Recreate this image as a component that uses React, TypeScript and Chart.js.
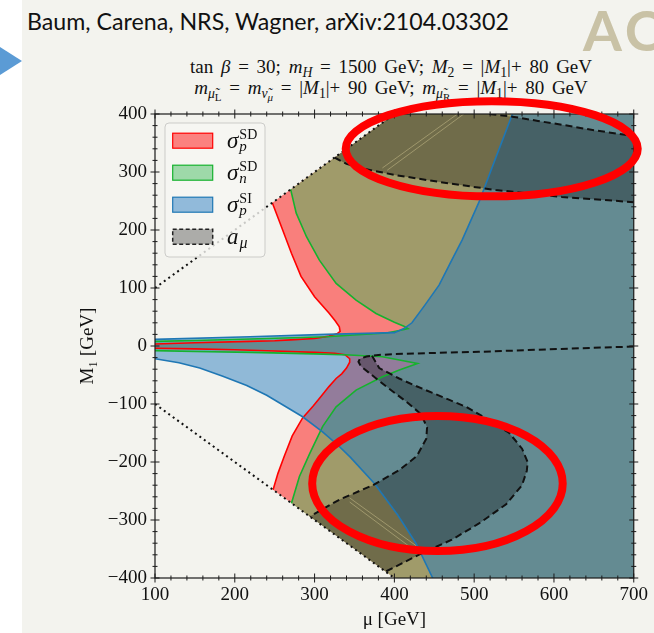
import React, { useEffect, useRef } from "react";
import { Chart, registerables } from "chart.js";

Chart.register(...registerables);

type P = [number, number];

// ---------- axes ----------
const MU_MIN = 100;
const MU_MAX = 700;
const M1_MIN = -400;
const M1_MAX = 400;
const TICK_STEP = 100;
const MINOR_STEP = 20;
const X_TITLE = "μ [GeV]";
const Y_TITLE = "M₁ [GeV]";

// ---------- boundary curves (μ [GeV], M1 [GeV]) ----------
// σ_p^SD : upper branch (from |M1|=μ line down into the strip, then to the left edge)
const redUpper: P[] = [
  [247, 247], [260, 200], [271, 160], [283, 120], [300, 85], [318, 57], [326, 43],
  [331, 33], [332, 25], [328, 21], [318, 17], [300, 13], [270, 10.5], [250, 9],
  [219, 8], [150, 5.5], [100, 3.5], [90, 3.2],
];
// σ_p^SD : lower branch (left edge, along the strip, then down to M1=-μ)
const redLower: P[] = [
  [90, -3.8], [100, -4], [150, -5], [200, -6.5], [250, -8.5], [300, -11], [325, -12.5],
  [338, -15], [344, -22], [344, -28], [340, -38], [334, -48], [327, -56], [318, -70],
  [308, -87], [298, -104], [285, -124], [272, -155], [262, -190], [254, -220], [248, -248],
];
// σ_n^SD
const greenUpper: P[] = [
  [270, 270], [277, 229], [290, 188], [306, 148], [327, 108], [352, 79], [377, 56],
  [400, 41], [412, 34], [417, 30], [408, 27], [390, 22.5], [344, 18.5], [315, 16],
  [219, 12], [150, 9.5], [100, 8], [90, 7.7],
];
const greenLower: P[] = [
  [90, -7.8], [100, -8], [150, -9.5], [220, -11], [300, -13.5], [344, -15.5], [385, -18.5],
  [429, -30], [407, -41], [385, -53], [352, -76], [327, -105], [310, -139], [294, -185],
  [281, -225], [271, -271],
];
// σ_p^SI
const blueUpper: P[] = [
  [90, 11], [100, 11.5], [219, 16], [315, 20], [400, 23], [412, 30], [422, 40], [438, 70],
  [456, 105], [470, 143], [485, 183], [506, 248], [525, 317], [548, 400],
];
const blueLower: P[] = [
  [90, -20], [100, -22], [130, -29], [156, -38], [185, -52], [215, -68], [240, -85],
  [262, -103], [285, -122], [310, -148], [330, -172], [345, -192], [375, -237],
  [404, -291], [427, -340], [448, -400], [451, -410],
];
// a_μ band (M1 > 0)
const amuTopUpper: P[] = [
  [519, 400], [550, 395], [580, 388], [612, 381], [650, 372], [700, 362],
];
const amuTopLower: P[] = [
  [325, 325], [340, 314], [360, 306], [400, 295], [465, 281], [527, 269], [610, 257], [700, 248],
];
// a_μ band (M1 < 0)
const amuOuterTop: P[] = [
  [700, -1], [650, -3], [590, -6], [506, -10], [448, -12], [400, -14], [380, -15.5],
];
const amuOuterArm: P[] = [
  [365, -18], [357, -22], [355, -27], [358, -35], [369, -47], [390, -70], [415, -96],
  [433, -117], [441, -140], [440, -160], [428, -190], [406, -214], [373, -240],
  [331, -265], [294, -294],
];
const amuInner: P[] = [
  [372, -17], [381, -38], [406, -56], [427, -69], [448, -81], [469, -93], [490, -105],
  [515, -125], [544, -150], [560, -177], [567, -200], [566, -215], [560, -240],
  [540, -273], [506, -306], [472, -334], [435, -357], [402, -380], [389, -389],
];
// faint contour seams visible inside the dark bands
const seamTopA: P[] = [[385, 307], [479, 400]];
const seamTopB: P[] = [[391, 303], [487, 400]];
const seamLowA: P[] = [[344, -262], [431, -348]];
const seamLowB: P[] = [[344, -269], [425, -352]];
// |M1| = μ lines
const dotUpper: P[] = [[100, 100], [400, 400]];
const dotLower: P[] = [[100, -100], [400, -400]];

// ---------- legend ----------
const LEGEND_LABELS = [
  { base: "σ", sub: "p", sup: "SD" },
  { base: "σ", sub: "n", sup: "SD" },
  { base: "σ", sub: "p", sup: "SI" },
  { base: "a", sub: "μ", sup: "" },
];

// ---------- slide annotations (ellipses, data coords) ----------
const ELLIPSES = [
  { mu: 522, m1: 340, rMu: 183, rM1: 82 },
  { mu: 454, m1: -237, rMu: 157, rM1: 116.5 },
];

// ---------- styles ----------
const RED_FILL = "rgba(255,0,0,0.48)";
const GREEN_FILL = "rgba(60,184,86,0.47)";
const BLUE_FILL = "rgba(31,119,190,0.47)";
const AMU_FILL = "rgba(0,0,0,0.3)";
const RED_LINE = "#ff0000";
const GREEN_LINE = "#16b22e";
const BLUE_LINE = "#1f77b4";
const SEAM = "rgba(215,205,150,0.45)";
const SERIF = '"Liberation Serif", "DejaVu Serif", serif';

const LEGEND_STYLES = [
  { fill: RED_FILL, edge: RED_LINE, dashed: false },
  { fill: GREEN_FILL, edge: GREEN_LINE, dashed: false },
  { fill: BLUE_FILL, edge: BLUE_LINE, dashed: false },
  { fill: AMU_FILL, edge: "#222", dashed: true },
];

const rev = (a: P[]) => [...a].reverse();
const pts = (a: P[]) => a.map(([x, y]) => ({ x, y }));

// polygons built from the curves (closing along |M1| = μ and outside the axes)
const redPoly: P[] = [[420, 420], ...redUpper, ...redLower, [420, -420], [800, -420], [800, 420]];
const greenPoly: P[] = [[420, 420], ...greenUpper, ...greenLower, [420, -420], [800, -420], [800, 420]];
const bluePoly: P[] = [...blueUpper, [553, 420], [800, 420], [800, -420], [455, -420], ...rev(blueLower)];
const amuTopPoly: P[] = [...amuTopLower, [760, 240], [760, 350], ...rev(amuTopUpper), [517, 420], [420, 420]];
const amuLowPoly: P[] = [...amuOuterArm, ...rev(amuInner)];

function fillDs(label: string, poly: P[], color: string) {
  return {
    label,
    data: pts(poly),
    showLine: true,
    fill: "shape",
    backgroundColor: color,
    borderColor: "rgba(0,0,0,0)",
    borderWidth: 0,
    pointRadius: 0,
    tension: 0,
  };
}
function lineDs(label: string, arr: P[], color: string, width: number, dash: number[] = []) {
  return {
    label,
    data: pts(arr),
    showLine: true,
    fill: false,
    borderColor: color,
    borderWidth: width,
    borderDash: dash,
    borderCapStyle: "butt",
    pointRadius: 0,
    tension: 0,
  };
}

function drawFrame(chart: any) {
  const { ctx, chartArea: ca, scales } = chart;
  const xs = scales.x;
  const ys = scales.y;
  ctx.save();
  ctx.strokeStyle = "#1a1a1a";
  ctx.lineWidth = 1.2;
  ctx.strokeRect(ca.left, ca.top, ca.right - ca.left, ca.bottom - ca.top);
  ctx.lineWidth = 1;
  for (let v = MU_MIN; v <= MU_MAX; v += MINOR_STEP) {
    const len = v % TICK_STEP === 0 ? 4.5 : 2.5;
    const p = xs.getPixelForValue(v);
    ctx.beginPath();
    ctx.moveTo(p, ca.bottom - len);
    ctx.lineTo(p, ca.bottom + len);
    ctx.moveTo(p, ca.top - len);
    ctx.lineTo(p, ca.top + len);
    ctx.stroke();
  }
  for (let v = M1_MIN; v <= M1_MAX; v += MINOR_STEP) {
    const len = v % TICK_STEP === 0 ? 4.5 : 2.5;
    const p = ys.getPixelForValue(v);
    ctx.beginPath();
    ctx.moveTo(ca.left - len, p);
    ctx.lineTo(ca.left + len, p);
    ctx.moveTo(ca.right - len, p);
    ctx.lineTo(ca.right + len, p);
    ctx.stroke();
  }
  ctx.restore();
}

function drawLegend(chart: any) {
  const { ctx, chartArea: ca } = chart;
  const bx = ca.left + 10;
  const by = ca.top + 9;
  ctx.save();
  ctx.beginPath();
  ctx.roundRect(bx, by, 100, 134, 4);
  ctx.fillStyle = "rgba(246,246,242,0.8)";
  ctx.fill();
  ctx.strokeStyle = "rgba(200,200,196,0.9)";
  ctx.lineWidth = 1;
  ctx.stroke();
  LEGEND_LABELS.forEach((lab, i) => {
    const st = LEGEND_STYLES[i];
    const cy = by + 17.7 + i * 32;
    const px = ca.left + 17.7;
    ctx.fillStyle = st.fill;
    ctx.fillRect(px, cy - 7.5, 40, 15);
    ctx.strokeStyle = st.edge;
    ctx.lineWidth = st.dashed ? 1.5 : 1.2;
    ctx.setLineDash(st.dashed ? [4, 2.5] : []);
    ctx.strokeRect(px, cy - 7.5, 40, 15);
    ctx.setLineDash([]);
    const tx = ca.left + 72;
    ctx.fillStyle = "#111";
    ctx.textAlign = "left";
    ctx.textBaseline = "alphabetic";
    ctx.font = `italic 23px ${SERIF}`;
    ctx.fillText(lab.base, tx, cy + 7);
    const w = ctx.measureText(lab.base).width + 1;
    if (lab.sup) {
      ctx.font = `14px ${SERIF}`;
      ctx.fillText(lab.sup, tx + w, cy - 1.5);
      ctx.font = `italic 15px ${SERIF}`;
      ctx.fillText(lab.sub, tx + w, cy + 10);
    } else {
      ctx.font = `italic 16px ${SERIF}`;
      ctx.fillText(lab.sub, tx + w, cy + 11);
    }
  });
  ctx.restore();
}

function drawEllipses(chart: any) {
  const { ctx, scales } = chart;
  const xs = scales.x;
  const ys = scales.y;
  ctx.save();
  ctx.strokeStyle = "#ff0000";
  ctx.lineWidth = 8;
  ELLIPSES.forEach((e) => {
    const cx = xs.getPixelForValue(e.mu);
    const cy = ys.getPixelForValue(e.m1);
    const rx = Math.abs(xs.getPixelForValue(e.mu + e.rMu) - cx);
    const ry = Math.abs(ys.getPixelForValue(e.m1 + e.rM1) - cy);
    ctx.beginPath();
    ctx.ellipse(cx, cy, rx, ry, 0, 0, Math.PI * 2);
    ctx.stroke();
  });
  ctx.restore();
}

const decorPlugin = {
  id: "decor",
  afterDatasetsDraw(chart: any) {
    drawLegend(chart);
    drawFrame(chart);
  },
  afterDraw(chart: any) {
    drawEllipses(chart);
  },
};

const subStyle: React.CSSProperties = { fontSize: "0.72em", verticalAlign: "-0.3em", lineHeight: 0 };
const subSubStyle: React.CSSProperties = { fontSize: "0.8em", verticalAlign: "-0.25em", lineHeight: 0 };

export default function App() {
  const ref = useRef<HTMLCanvasElement | null>(null);

  useEffect(() => {
    if (!ref.current) return;
    const layers = [
      fillDs("σp SD region", redPoly, RED_FILL),
      fillDs("σn SD region", greenPoly, GREEN_FILL),
      fillDs("σp SI region", bluePoly, BLUE_FILL),
      fillDs("aμ band (M1>0)", amuTopPoly, AMU_FILL),
      fillDs("aμ band (M1<0)", amuLowPoly, AMU_FILL),
      lineDs("seam 1", seamTopA, SEAM, 1),
      lineDs("seam 2", seamTopB, SEAM, 1),
      lineDs("seam 3", seamLowA, SEAM, 1),
      lineDs("seam 4", seamLowB, SEAM, 1),
      lineDs("σp SD upper", redUpper, RED_LINE, 1.6),
      lineDs("σp SD lower", redLower, RED_LINE, 1.6),
      lineDs("σn SD upper", greenUpper, GREEN_LINE, 1.6),
      lineDs("σn SD lower", greenLower, GREEN_LINE, 1.6),
      lineDs("σp SI upper", blueUpper, BLUE_LINE, 1.6),
      lineDs("σp SI lower", blueLower, BLUE_LINE, 1.6),
      lineDs("aμ top upper", amuTopUpper, "#111", 2, [7, 4]),
      lineDs("aμ top lower", amuTopLower, "#111", 2, [7, 4]),
      lineDs("aμ outer", [...amuOuterTop, ...amuOuterArm], "#111", 2, [7, 4]),
      lineDs("aμ inner", amuInner, "#111", 2, [7, 4]),
      lineDs("|M1| = μ (+)", dotUpper, "#111", 2, [2, 3.5]),
      lineDs("|M1| = μ (−)", dotLower, "#111", 2, [2, 3.5]),
    ];
    const n = layers.length;
    const datasets = layers.map((d, i) => ({ ...d, order: n - i }));

    const chart = new Chart(ref.current, {
      type: "scatter",
      data: { datasets } as any,
      options: {
        animation: false,
        responsive: false,
        maintainAspectRatio: false,
        events: [],
        layout: { padding: { left: 0, top: 114, right: 19, bottom: 0 } },
        plugins: { legend: { display: false }, tooltip: { enabled: false } },
        scales: {
          x: {
            type: "linear",
            position: "bottom",
            min: MU_MIN,
            max: MU_MAX,
            grid: { display: false, drawTicks: false },
            border: { display: false },
            ticks: {
              stepSize: TICK_STEP,
              padding: 6,
              maxRotation: 0,
              autoSkip: false,
              color: "#111",
              font: { family: SERIF, size: 19 },
              callback: (v: any) => String(v),
            },
            title: {
              display: true,
              text: X_TITLE,
              color: "#111",
              font: { family: SERIF, size: 19 },
              padding: { top: 0, bottom: 2 },
            },
            afterFit: (s: any) => {
              s.height = 55;
            },
          },
          y: {
            type: "linear",
            position: "left",
            min: M1_MIN,
            max: M1_MAX,
            grid: { display: false, drawTicks: false },
            border: { display: false },
            ticks: {
              stepSize: TICK_STEP,
              padding: 8,
              autoSkip: false,
              color: "#111",
              font: { family: SERIF, size: 19 },
              callback: (v: any) => (Number(v) < 0 ? "−" + Math.abs(Number(v)) : String(v)),
            },
            title: {
              display: true,
              text: Y_TITLE,
              color: "#111",
              font: { family: SERIF, size: 19 },
              padding: { top: 77, bottom: 0 },
            },
            afterFit: (s: any) => {
              s.width = 155;
            },
          },
        },
      } as any,
      plugins: [decorPlugin as any],
    });
    return () => chart.destroy();
  }, []);

  return (
    <div
      style={{
        position: "fixed",
        left: 0,
        top: 0,
        width: 654,
        height: 633,
        overflow: "hidden",
        background: "#ffffff",
      }}
    >
      <div style={{ position: "absolute", left: 22, top: 0, right: 0, bottom: 0, background: "#f3f3ee" }} />
      <div
        style={{
          position: "absolute",
          left: 0,
          top: 47,
          width: 0,
          height: 0,
          borderTop: "14px solid transparent",
          borderBottom: "14px solid transparent",
          borderLeft: "22px solid #5b9bd5",
        }}
      />
      <div
        style={{
          position: "absolute",
          left: 27,
          top: 7,
          fontFamily: "Lato, sans-serif",
          fontSize: 23.2,
          color: "#111",
          whiteSpace: "nowrap",
        }}
      >
        Baum, Carena, NRS, Wagner, arXiv:2104.03302
      </div>
      <div
        style={{
          position: "absolute",
          left: 583,
          top: -4,
          fontFamily: "Lato, sans-serif",
          fontWeight: 700,
          fontSize: 56,
          color: "#c9c2a6",
          whiteSpace: "nowrap",
          letterSpacing: 4,
        }}
      >
        AC
      </div>
      <div
        style={{
          position: "absolute",
          left: 91,
          width: 600,
          top: 56,
          textAlign: "center",
          fontFamily: SERIF,
          fontSize: 19,
          lineHeight: "21px",
          wordSpacing: 3,
          color: "#111",
          whiteSpace: "nowrap",
        }}
      >
        <div>
          tan <i>β</i> = 30; <i>m</i>
          <sub style={subStyle}>
            <i>H</i>
          </sub>{" "}
          = 1500 GeV; <i>M</i>
          <sub style={subStyle}>2</sub> = |<i>M</i>
          <sub style={subStyle}>1</sub>|+ 80 GeV
        </div>
        <div>
          <i>m</i>
          <sub style={subStyle}>
            <i>μ̃</i>
            <sub style={subSubStyle}>L</sub>
          </sub>{" "}
          = <i>m</i>
          <sub style={subStyle}>
            <i>ν̃</i>
            <sub style={subSubStyle}>
              <i>μ</i>
            </sub>
          </sub>{" "}
          = |<i>M</i>
          <sub style={subStyle}>1</sub>|+ 90 GeV; <i>m</i>
          <sub style={subStyle}>
            <i>μ̃</i>
            <sub style={subSubStyle}>R</sub>
          </sub>{" "}
          = |<i>M</i>
          <sub style={subStyle}>1</sub>|+ 80 GeV
        </div>
      </div>
      <canvas
        ref={ref}
        width={654}
        height={633}
        style={{ position: "absolute", left: 0, top: 0, width: 654, height: 633 }}
      />
    </div>
  );
}
